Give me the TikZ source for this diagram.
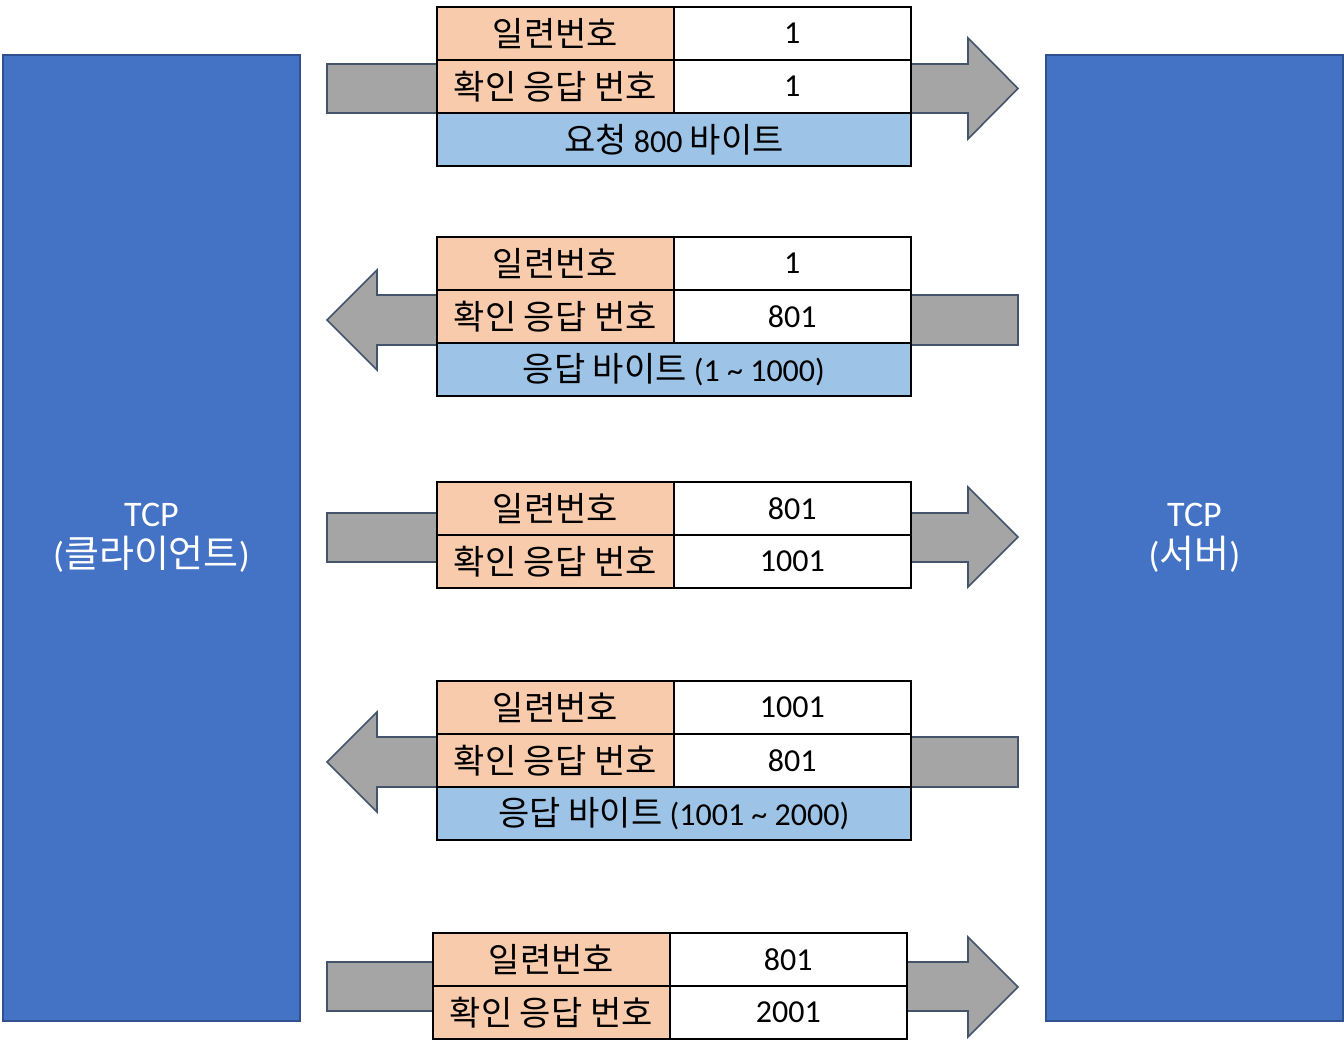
\documentclass[tikz,border=0pt]{standalone}
\usepackage{fontspec}
\setmainfont{Carlito}
\newfontfamily\kr{Noto Sans CJK KR}
\definecolor{tcpblue}{HTML}{4472C4}
\definecolor{tcpedge}{HTML}{2F528F}
\definecolor{arrgray}{HTML}{A5A5A5}
\definecolor{arredge}{HTML}{44546A}
\definecolor{cellor}{HTML}{F8CBAD}
\definecolor{cellbl}{HTML}{9DC3E6}
\newcommand{\K}[1]{{\kr\fontsize{34}{40}\selectfont #1}}
\begin{document}
\begin{tikzpicture}[x=1pt,y=-1pt,
  tcp/.style={draw=tcpedge,line width=2pt,fill=tcpblue,anchor=north west,minimum width=297,minimum height=966,inner sep=0,text=white,align=center,font=\fontsize{36}{41}\selectfont},
  cellbase/.style={draw=black,line width=1.6pt,anchor=north west,minimum height=53,inner sep=0,font=\fontsize{32}{37}\selectfont},
  lab/.style={cellbase,fill=cellor,minimum width=237},
  val/.style={cellbase,fill=white,minimum width=237},
  pay/.style={cellbase,fill=cellbl,minimum width=474},
  arr/.style={fill=arrgray,draw=arredge,line width=1.6pt,line join=miter}]
\useasboundingbox (0,0) rectangle (1344,1050);
% TCP boxes
\node[tcp] (client) at (2,54) {TCP\\({\kr\fontsize{38}{41}\selectfont 클라이언트})};
\node[tcp] (server) at (1045,54) {TCP\\({\kr\fontsize{38}{41}\selectfont 서버})};
% arrows
\draw[arr] (327,64) -- (968,64) -- (968,38) -- (1018,88.5) -- (968,139) -- (968,113) -- (327,113) -- cycle;
\draw[arr] (1018,295) -- (377,295) -- (377,270) -- (327,320) -- (377,370) -- (377,345) -- (1018,345) -- cycle;
\draw[arr] (327,513) -- (968,513) -- (968,487) -- (1018,537) -- (968,587) -- (968,562) -- (327,562) -- cycle;
\draw[arr] (1018,737) -- (377,737) -- (377,712) -- (327,762) -- (377,812) -- (377,787) -- (1018,787) -- cycle;
\draw[arr] (327,962) -- (968,962) -- (968,937) -- (1018,987) -- (968,1037) -- (968,1011) -- (327,1011) -- cycle;
% packet 1
\node[lab] (p1a) at (436,6) {\K{일련번호}};
\node[val] (p1b) at (673,6) {1};
\node[lab] (p1c) at (436,59) {\K{확인 응답 번호}};
\node[val] (p1d) at (673,59) {1};
\node[pay] (p1e) at (436,112) {\K{요청} 800 \K{바이트}};
% packet 2
\node[lab] (p2a) at (436,236) {\K{일련번호}};
\node[val] (p2b) at (673,236) {1};
\node[lab] (p2c) at (436,289) {\K{확인 응답 번호}};
\node[val] (p2d) at (673,289) {801};
\node[pay] (p2e) at (436,342) {\K{응답 바이트} (1 \textasciitilde\ 1000)};
% packet 3
\node[lab] (p3a) at (436,481) {\K{일련번호}};
\node[val] (p3b) at (673,481) {801};
\node[lab] (p3c) at (436,534) {\K{확인 응답 번호}};
\node[val] (p3d) at (673,534) {1001};
% packet 4
\node[lab] (p4a) at (436,680) {\K{일련번호}};
\node[val] (p4b) at (673,680) {1001};
\node[lab] (p4c) at (436,733) {\K{확인 응답 번호}};
\node[val] (p4d) at (673,733) {801};
\node[pay] (p4e) at (436,786) {\K{응답 바이트} (1001 \textasciitilde\ 2000)};
% packet 5
\node[lab] (p5a) at (432,932) {\K{일련번호}};
\node[val] (p5b) at (669,932) {801};
\node[lab] (p5c) at (432,985) {\K{확인 응답 번호}};
\node[val] (p5d) at (669,985) {2001};
\end{tikzpicture}
\end{document}
